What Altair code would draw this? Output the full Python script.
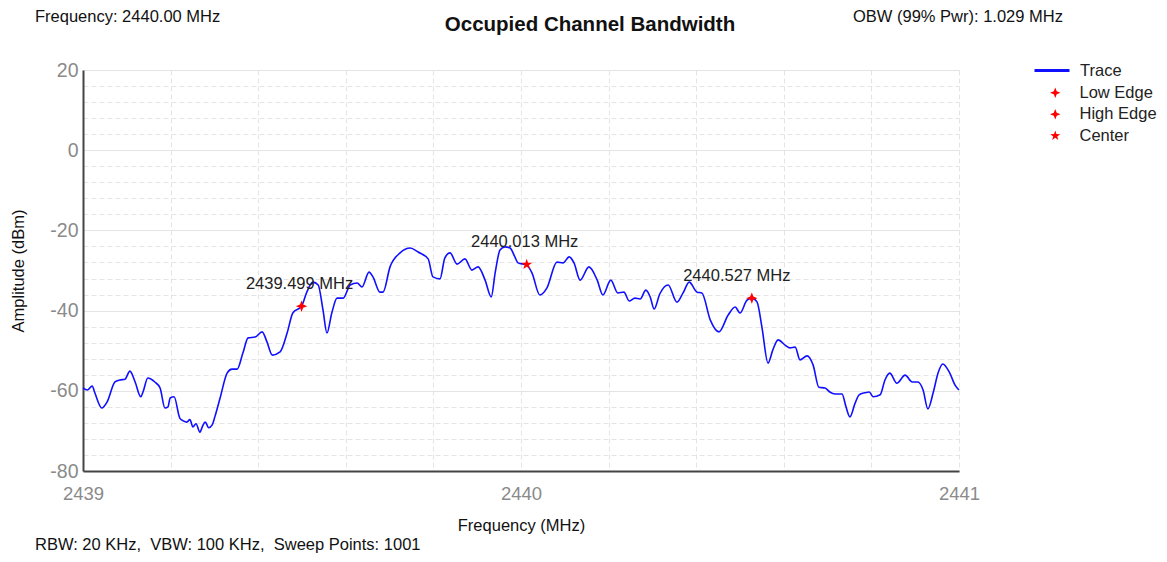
import altair as alt
import pandas as pd

# ---------------- data ----------------
trace_freq = [
    2439.000, 2439.010, 2439.021, 2439.027, 2439.043, 2439.055, 2439.073, 2439.084, 2439.096, 2439.107,
    2439.119, 2439.132, 2439.137, 2439.148, 2439.164, 2439.176, 2439.187, 2439.194, 2439.199, 2439.208,
    2439.221, 2439.229, 2439.237, 2439.244, 2439.251, 2439.258, 2439.267, 2439.273, 2439.279, 2439.287,
    2439.295, 2439.301, 2439.313, 2439.329, 2439.340, 2439.352, 2439.365, 2439.377, 2439.393, 2439.409,
    2439.420, 2439.432, 2439.450, 2439.466, 2439.479, 2439.499, 2439.511, 2439.525, 2439.537, 2439.548,
    2439.557, 2439.568, 2439.580, 2439.594, 2439.610, 2439.626, 2439.637, 2439.653, 2439.662, 2439.678,
    2439.685, 2439.701, 2439.724, 2439.747, 2439.765, 2439.788, 2439.799, 2439.815, 2439.826, 2439.838,
    2439.854, 2439.872, 2439.888, 2439.902, 2439.918, 2439.932, 2439.941, 2439.952, 2439.963, 2439.975,
    2439.986, 2439.993, 2440.013, 2440.025, 2440.043, 2440.059, 2440.082, 2440.096, 2440.110, 2440.121,
    2440.135, 2440.155, 2440.174, 2440.187, 2440.205, 2440.221, 2440.235, 2440.247, 2440.260, 2440.272,
    2440.285, 2440.295, 2440.304, 2440.317, 2440.336, 2440.356, 2440.370, 2440.384, 2440.402, 2440.413,
    2440.432, 2440.452, 2440.473, 2440.489, 2440.500, 2440.516, 2440.527, 2440.539, 2440.550, 2440.564,
    2440.575, 2440.587, 2440.603, 2440.614, 2440.626, 2440.637, 2440.653, 2440.667, 2440.680, 2440.694,
    2440.705, 2440.717, 2440.733, 2440.742, 2440.751, 2440.763, 2440.772, 2440.785, 2440.795, 2440.804,
    2440.820, 2440.831, 2440.842, 2440.858, 2440.877, 2440.893, 2440.906, 2440.918, 2440.929, 2440.941,
    2440.952, 2440.963, 2440.979, 2440.991, 2441.000,
]
trace_amp = [
    -59.3, -59.8, -58.8, -60.5, -64.3, -62.8, -57.8, -57.3, -57.1, -55.1,
    -57.8, -61.5, -60.3, -56.8, -57.8, -59.3, -64.3, -64.0, -61.8, -61.5,
    -66.8, -67.5, -67.8, -67.2, -69.0, -68.2, -70.3, -68.8, -67.8, -69.2,
    -68.5, -66.5, -61.8, -55.6, -54.6, -54.6, -50.6, -46.8, -46.6, -45.3,
    -47.8, -51.1, -50.3, -45.6, -40.6, -38.9, -35.4, -32.9, -33.6, -39.9,
    -45.6, -40.6, -36.9, -36.9, -33.6, -33.1, -34.1, -30.4, -31.6, -35.4,
    -35.4, -29.1, -25.6, -24.4, -25.4, -27.1, -31.6, -32.1, -26.9, -25.6,
    -28.4, -27.1, -29.9, -29.1, -32.4, -36.6, -30.6, -24.9, -24.1, -24.4,
    -26.6, -28.1, -28.6, -30.6, -36.1, -34.4, -27.9, -28.1, -26.6, -28.1,
    -32.4, -29.1, -32.4, -36.1, -32.4, -35.6, -35.4, -37.6, -36.9, -37.1,
    -34.9, -36.6, -39.6, -35.8, -33.6, -37.9, -35.6, -32.9, -35.4, -35.6,
    -42.3, -45.3, -41.1, -39.1, -40.6, -37.4, -36.9, -37.9, -44.1, -53.1,
    -49.8, -47.3, -48.6, -49.3, -49.1, -52.3, -51.3, -53.6, -59.1, -59.3,
    -60.3, -60.8, -60.8, -64.0, -66.5, -63.0, -61.0, -60.5, -60.3, -61.5,
    -61.0, -57.3, -55.6, -58.1, -56.1, -57.8, -57.8, -59.8, -64.5, -60.5,
    -55.6, -53.3, -55.6, -58.6, -59.8,
]

marker_names = ["Low Edge", "High Edge", "Center"]
marker_freq = [2439.499, 2440.527, 2440.013]
marker_amp = [-38.9, -36.9, -28.5]

x_grid = [2439.0, 2439.2, 2439.4, 2439.6, 2439.8, 2440.0, 2440.2, 2440.4, 2440.6, 2440.8, 2441.0]
y_grid = [20, 16, 12, 8, 4, 0, -4, -8, -12, -16, -20, -24, -28, -32, -36, -40, -44, -48, -52,
          -56, -60, -64, -68, -72, -76, -80]

header_left = "Frequency: 2440.00 MHz"
header_right = "OBW (99% Pwr): 1.029 MHz"
chart_title = "Occupied Channel Bandwidth"
footer = "RBW: 20 KHz,\u00a0 VBW: 100 KHz,\u00a0 Sweep Points: 1001"

# ---------------- styling ----------------
FONT = "Liberation Sans, Arial, sans-serif"
W, H = 876, 401
EDGE = "M0,-1L0.28,-0.28L1,0L0.28,0.28L0,1L-0.28,0.28L-1,0L-0.28,-0.28Z"
STAR = ("M0,-1L0.235,-0.324L0.951,-0.309L0.38,0.124L0.588,0.809L0,0.4"
        "L-0.588,0.809L-0.38,0.124L-0.951,-0.309L-0.235,-0.324Z")
BLUE = "#1010ff"
RED = "#ff0000"

trace_df = pd.DataFrame({"freq": trace_freq, "amp": trace_amp, "series": "Trace"})
marker_df = pd.DataFrame({"freq": marker_freq, "amp": marker_amp, "series": marker_names})

x_enc = alt.X(
    "freq:Q",
    scale=alt.Scale(domain=[2439, 2441], nice=False, zero=False),
    axis=alt.Axis(
        values=x_grid, tickCount=40,
        labelExpr="abs(datum.value - round(datum.value)) < 0.001 ? '' + round(datum.value) : ''",
        labelFlush=False, labelOverlap=False, labelFont=FONT, labelFontSize=18.5,
        labelColor="#8a8a8a", labelPadding=13, ticks=False, tickSize=0,
        domainColor="#444444", domainWidth=2,
        grid=True, gridColor="#e4e4e4", gridDash=[5, 3], gridWidth=1,
        title="Frequency (MHz)", titleFont=FONT, titleFontSize=16.5, titleFontWeight="normal",
        titleColor="#111111", titleX=W / 2, titleY=54, titleBaseline="middle",
    ),
)
y_enc = alt.Y(
    "amp:Q",
    scale=alt.Scale(domain=[-80, 20], nice=False, zero=False),
    axis=alt.Axis(
        values=y_grid, tickCount=60,
        labelExpr="datum.value % 20 === 0 ? '' + datum.value : ''",
        labelOverlap=False, labelFont=FONT, labelFontSize=19.5, labelColor="#8a8a8a",
        labelPadding=5, ticks=False, tickSize=0,
        domainColor="#444444", domainWidth=2,
        grid=True, gridColor="#e4e4e4", gridWidth=1,
        gridDash={"condition": {"test": "datum.value % 20 === 0", "value": []}, "value": [5, 3]},
        title="Amplitude (dBm)", titleFont=FONT, titleFontSize=16.5, titleFontWeight="normal",
        titleColor="#111111", titleX=-65, titleY=H / 2, titleBaseline="middle",
    ),
)

line_legend = alt.Legend(
    title=None, orient="none", legendX=950, legendY=-18.5,
    labelFont=FONT, labelFontSize=16.5, labelColor="#222222",
    symbolType="stroke", symbolSize=1225, symbolStrokeWidth=3, labelOffset=9, padding=0,
)
marker_legend = alt.Legend(
    title=None, orient="none", legendX=964, legendY=14.5,
    labelFont=FONT, labelFontSize=16.5, labelColor="#222222",
    symbolSize=110, symbolStrokeWidth=0, labelOffset=16, rowPadding=4.5, padding=0,
)

line = alt.Chart(trace_df).mark_line(strokeWidth=1.6, interpolate="monotone").encode(
    x=x_enc, y=y_enc,
    stroke=alt.Stroke("series:N", scale=alt.Scale(domain=["Trace"], range=[BLUE]), legend=line_legend),
)

points = alt.Chart(marker_df).mark_point(filled=True, opacity=1, size=130).encode(
    x="freq:Q", y="amp:Q",
    fill=alt.Fill("series:N", scale=alt.Scale(domain=marker_names, range=[RED, RED, RED]), legend=marker_legend),
    shape=alt.Shape("series:N", scale=alt.Scale(domain=marker_names, range=[EDGE, EDGE, STAR]), legend=marker_legend),
)

labels_base = alt.Chart(marker_df).transform_calculate(
    label="format(datum.freq, '.3f') + ' MHz'"
)
labels_a = labels_base.transform_filter("datum.series != 'High Edge'").mark_text(
    font=FONT, fontSize=16.5, color="#222222", dy=-22, dx=-2, align="center", baseline="middle"
).encode(x="freq:Q", y="amp:Q", text="label:N")
labels_b = labels_base.transform_filter("datum.series == 'High Edge'").mark_text(
    font=FONT, fontSize=16.5, color="#222222", dy=-22, dx=-15, align="center", baseline="middle"
).encode(x="freq:Q", y="amp:Q", text="label:N")


def annotation(text, x, y, align="left", size=16.5, weight="normal", baseline="middle"):
    return alt.Chart(pd.DataFrame({"t": [text]})).mark_text(
        font=FONT, fontSize=size, fontWeight=weight, color="#111111",
        align=align, baseline=baseline,
    ).encode(x=alt.value(x), y=alt.value(y), text="t:N")


chart = alt.layer(
    line, points, labels_a, labels_b,
    annotation(header_left, -48, -61, baseline="top"),
    annotation(header_right, 770, -61, baseline="top"),
    annotation(chart_title, 507, -45, align="center", size=20.5, weight="bold"),
    annotation(footer, -48, 480, baseline="alphabetic"),
).properties(
    width=W, height=H,
    autosize=alt.AutoSizeParams(type="none"),
    padding={"left": 75, "top": 62, "right": 200, "bottom": 83},
    background="white",
).configure_view(stroke=None)

chart.save("out.html", embed_options={"renderer": "svg", "actions": False})
